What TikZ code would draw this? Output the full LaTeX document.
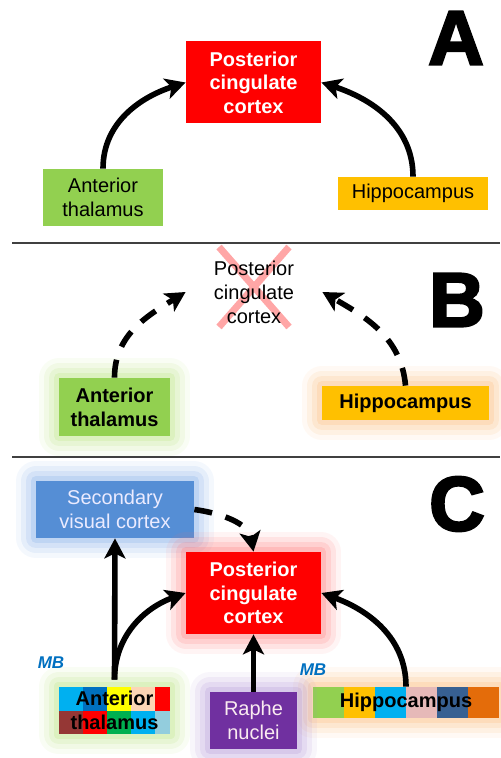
\documentclass[tikz,border=0pt]{standalone}
\usepackage{fontspec}
\setmainfont{Liberation Sans}
\newfontfamily\panelfont[FakeBold=3]{Liberation Sans Bold}
\usetikzlibrary{arrows.meta,calc,positioning}
\definecolor{pccred}{RGB}{255,0,0}
\definecolor{atgreen}{RGB}{146,208,80}
\definecolor{hipgold}{RGB}{255,192,0}
\definecolor{svcblue}{RGB}{85,142,213}
\definecolor{rnpurple}{RGB}{112,48,160}
\definecolor{mbblue}{RGB}{0,112,192}
\definecolor{rulegray}{RGB}{64,64,64}
\definecolor{glowgreen}{RGB}{180,225,120}
\definecolor{gloworange}{RGB}{250,180,110}
\definecolor{glowred}{RGB}{255,110,110}
\definecolor{glowblue}{RGB}{120,165,230}
\definecolor{glowpurple}{RGB}{170,140,210}
\definecolor{cellcyan}{RGB}{0,176,240}
\definecolor{celldblue}{RGB}{0,112,192}
\definecolor{cellyellow}{RGB}{255,255,0}
\definecolor{cellpeach}{RGB}{252,213,181}
\definecolor{cellbrown}{RGB}{149,55,53}
\definecolor{cellgreen}{RGB}{0,176,80}
\definecolor{celllblue}{RGB}{147,205,221}
\definecolor{cellpink}{RGB}{230,185,184}
\definecolor{cellnavy}{RGB}{55,96,146}
\definecolor{cellorange}{RGB}{228,108,10}
\pgfdeclarelayer{background}
\pgfsetlayers{background,main}
\tikzset{
  region/.style={inner sep=0pt, align=center,
                 font=\fontsize{10}{12}\selectfont},
  glow/.style={preaction={draw=#1, line width=20pt, opacity=.08, line join=round},
               preaction={draw=#1, line width=15pt, opacity=.12, line join=round},
               preaction={draw=#1, line width=10pt, opacity=.16, line join=round},
               preaction={draw=#1, line width=5pt, opacity=.22, line join=round}},
  pcc/.style={region, fill=pccred, text=white,
              font=\fontsize{10}{11.8}\selectfont\bfseries,
              minimum width=67.5pt, minimum height=41pt},
  link/.style={-{Stealth[length=10pt,width=10.5pt,inset=2.5pt]}, line width=2.8pt},
  weaklink/.style={link, dash pattern=on 9pt off 7pt},
  panel/.style={font=\fontsize{38.5}{40}\panelfont},
  mb/.style={text=mbblue, font=\fontsize{8.5}{10}\selectfont\bfseries\itshape},
  divider/.style={rulegray, line width=0.8pt},
}
\begin{document}
\begin{tikzpicture}[x=0.5pt,y=-0.5pt]
  \useasboundingbox (0,0) rectangle (500,758);

  % panel A: intact network
  \node[pcc] (pccA) at (253.5,82.5) {Posterior\\cingulate\\cortex};
  \node[region, fill=atgreen, minimum width=60pt, minimum height=28.5pt]
    (atA) at (103,197.5) {Anterior\\thalamus};
  \node[region, fill=hipgold, minimum width=75pt, minimum height=16.5pt]
    (hipA) at (413,193.5) {Hippocampus};
  \draw[link] (atA.north) to[out=90, in=198] (pccA.west);
  \draw[link] (hipA.north) to[out=90, in=-18] (pccA.east);
  \node[panel] (letA) at (456,38) {A};

  \draw[divider] (12,243) -- (500,243);

  % panel B: cortex lost
  \node[region, minimum width=68pt, minimum height=41pt] (pccB) at (254,292)
    {Posterior\\cingulate\\cortex};
  \begin{pgfonlayer}{background}
    \draw[red!35, line width=3.5pt]
      ($(pccB.center)+(-35,-45)$) -- ($(pccB.center)+(35,35)$)
      ($(pccB.center)+(35,-45)$) -- ($(pccB.center)+(-35,35)$);
  \end{pgfonlayer}
  \node[region, glow=glowgreen, fill=atgreen, font=\fontsize{10}{12}\selectfont\bfseries,
        minimum width=55.5pt, minimum height=29pt] (atB) at (114.5,407) {Anterior\\thalamus};
  \node[region, glow=gloworange, fill=hipgold, font=\fontsize{10}{12}\selectfont\bfseries,
        minimum width=83.5pt, minimum height=17pt] (hipB) at (405.5,403) {Hippocampus};
  \draw[weaklink] (atB.north) to[out=90, in=212] (pccB.west);
  \draw[weaklink] (hipB.north) to[out=95, in=-30] (pccB.east);
  \node[panel] (letB) at (457,300) {B};

  \draw[divider] (12,457) -- (500,457);

  % panel C: wider network
  \node[region, glow=glowblue, fill=svcblue, text=white!92!blue,
        minimum width=79pt, minimum height=28.5pt] (svc) at (115,509.5)
    {Secondary\\visual cortex};
  \node[pcc, glow=glowred] (pccC) at (253.5,593) {Posterior\\cingulate\\cortex};
  \node[region, glow=glowpurple, fill=rnpurple, text=white!92!purple,
        minimum width=43.5pt, minimum height=28.5pt] (rnC) at (253.5,720.5)
    {Raphe\\nuclei};
  \node[region, font=\fontsize{10}{12}\selectfont\bfseries,
        minimum width=55.5pt, minimum height=23.5pt] (atC) at (114.5,710.5)
    {Anterior\\thalamus};
  \node[region, font=\fontsize{10}{12}\selectfont\bfseries,
        minimum width=93pt, minimum height=15.5pt] (hipC) at (406,702.5)
    {Hippocampus};
  \begin{pgfonlayer}{background}
    \path[glow=glowgreen] (atC.north west) rectangle (atC.south east);
    \path[glow=gloworange] (hipC.north west) rectangle (hipC.south east);
    \foreach \xa/\xb/\col in {59/83/cellcyan, 83/107/celldblue, 107/131/cellyellow,
                              131/155/cellpeach, 155/170/pccred}
      \fill[\col] (\xa,687) rectangle (\xb,710.5);
    \foreach \xa/\xb/\col in {59/83/cellbrown, 83/107/pccred, 107/131/cellgreen,
                              131/155/cellcyan, 155/170/celllblue}
      \fill[\col] (\xa,710.5) rectangle (\xb,734);
    \foreach \xa/\xb/\col in {313/344/atgreen, 344/375/hipgold, 375/406/cellcyan,
                              406/437/cellpink, 437/468/cellnavy, 468/499/cellorange}
      \fill[\col] (\xa,687) rectangle (\xb,718);
  \end{pgfonlayer}
  \coordinate (atbase) at ($(atC.north)+(0,-7)$);
  \draw[link] (atbase) -- (svc.south);
  \draw[link] (atbase) to[out=90, in=200] (pccC.west);
  \draw[link] (rnC.north) -- (pccC.south);
  \draw[link] (hipC.north) to[out=90, in=-20] (pccC.east);
  \draw[weaklink] (svc.east) to[out=-8, in=100] (pccC.north);
  \node[mb] (mbAT) at (51,663) {MB};
  \node[mb] (mbHip) at (313,670) {MB};
  \node[panel] (letC) at (457,504) {C};
\end{tikzpicture}
\end{document}
